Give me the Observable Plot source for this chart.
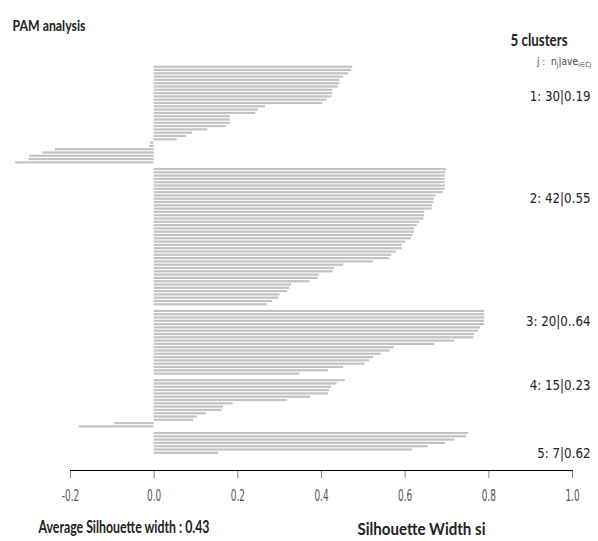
<!DOCTYPE html>
<html><head><meta charset="utf-8">
<script src="https://cdn.jsdelivr.net/npm/d3@7"></script>
<script src="https://cdn.jsdelivr.net/npm/@observablehq/plot@0.6"></script>
<style>body{margin:0;background:#fff}</style>
</head><body><div id="chart"></div>
<script>
// silhouette widths per cluster (sorted as in the reference)
const cluster1 = [0.475,0.472,0.465,0.453,0.444,0.444,0.440,0.427,0.427,0.425,0.414,0.403,0.266,0.249,0.243,0.182,0.182,0.182,0.173,0.128,0.092,0.077,0.055,-0.009,-0.011,-0.236,-0.266,-0.297,-0.299,-0.331];
const cluster2 = [0.699,0.697,0.696,0.696,0.696,0.696,0.695,0.691,0.674,0.670,0.668,0.665,0.665,0.647,0.646,0.645,0.635,0.629,0.623,0.622,0.619,0.615,0.601,0.593,0.593,0.579,0.568,0.563,0.524,0.453,0.431,0.428,0.395,0.392,0.372,0.328,0.324,0.319,0.301,0.298,0.283,0.270];
const cluster3 = [0.790,0.790,0.790,0.790,0.790,0.780,0.775,0.766,0.764,0.718,0.671,0.574,0.564,0.543,0.525,0.515,0.504,0.453,0.417,0.348];
const cluster4 = [0.457,0.437,0.424,0.419,0.417,0.374,0.319,0.189,0.166,0.162,0.126,0.103,0.094,-0.094,-0.179];
const cluster5 = [0.751,0.746,0.719,0.696,0.655,0.617,0.154];
const clusterIds = [1,2,3,4,5];
const clusterSizes = [30,42,20,15,7];
const clusterAverages = ["0.19","0.55","0..64","0.23","0.62"];
const xTicks = [-0.2,0.0,0.2,0.4,0.6,0.8,1.0];
const titleText = "PAM analysis";
const clustersText = "5 clusters";
const avgText = "Average Silhouette width : 0.43";
const xLabel = "Silhouette Width si";

// build rows: one slot per observation, one empty slot between clusters
const clusterValues = [cluster1, cluster2, cluster3, cluster4, cluster5];
const rows = [], groups = [];
let slot = 0;
clusterValues.forEach((vals, i) => {
  const start = slot;
  vals.forEach(v => rows.push({cluster: clusterIds[i], slot: slot++, s: v}));
  groups.push({id: clusterIds[i], start, n: clusterSizes[i], ave: clusterAverages[i]});
  slot++;
});
const lastSlot = slot - 2;
const labelShift = [9, 9, 3, 1.5, 6]; // label placement relative to cluster start (in slots)

const narrow = "'Liberation Sans Narrow', 'DejaVu Sans Condensed', sans-serif";
const humanist = "Lato, 'Open Sans', sans-serif";

const chart = Plot.plot({
  width: 598, height: 541,
  marginLeft: 70, marginRight: 26, marginTop: 60, marginBottom: 71,
  style: {fontFamily: humanist, background: "#fff", overflow: "visible"},
  x: {domain: [-0.2, 1.0], label: null, axis: null},
  y: {domain: [0, lastSlot], range: [66.7, 452.8], axis: null},
  marks: [
    Plot.rect(rows, {x1: 0, x2: "s", y1: d => d.slot - 0.33, y2: d => d.slot + 0.33, fill: "#c2c2c2"}),
    Plot.axisX({ticks: xTicks, tickFormat: d => d.toFixed(1), tickSize: 8, tickPadding: 12,
      fontSize: 15, fontFamily: narrow, stroke: "#888", fill: "#555", label: null}),
    Plot.frame({anchor: "bottom", stroke: "#000", strokeOpacity: 1}),
    Plot.text(groups, {x: 1.0, y: (d, i) => d.start + labelShift[i], text: d => `${d.id}: ${d.n}|${d.ave}`,
      textAnchor: "end", dx: 18, fontSize: 13.2, fontFamily: narrow, fill: "#222"}),
    Plot.text([titleText], {frameAnchor: "top-left", dx: -58, dy: -41, textAnchor: "start",
      fontSize: 15.5, fontWeight: "bold", fill: "#222"}),
    Plot.text([clustersText], {frameAnchor: "top-right", dx: -33.5, dy: -27, textAnchor: "middle",
      fontSize: 17, fontWeight: "bold", fill: "#222"}),
    Plot.text([avgText], {frameAnchor: "bottom-left", dx: -32, dy: 62, textAnchor: "start",
      fontSize: 16.5, fontWeight: "bold", fill: "#222"}),
    Plot.text([xLabel], {frameAnchor: "bottom", dx: 100, dy: 64, textAnchor: "middle",
      fontSize: 17.5, fontWeight: "bold", fill: "#222"})
  ]
});
document.getElementById("chart").appendChild(chart);

// condensed look of the original: squeeze glyphs horizontally to the reference widths
const targetWidths = {"PAM analysis": 73, "5 clusters": 57, "Average Silhouette width : 0.43": 171, "Silhouette Width si": 128};
d3.select(chart).selectAll("text").each(function() {
  const el = this;
  const w = el.getComputedTextLength();
  if (!w) return;
  const parent = el.parentNode;
  const isTick = parent && /tick/.test(parent.getAttribute("aria-label") || "");
  let target = null;
  if (targetWidths[el.textContent] != null) target = targetWidths[el.textContent];
  else if (isTick) target = w * 0.66;
  if (target == null) return;
  el.setAttribute("textLength", target);
  el.setAttribute("lengthAdjust", "spacingAndGlyphs");
});

// small legend "j : n_j | ave_{i∈Cj}" with subscripts
const t = d3.select(chart).append("text").attr("x", 537).attr("y", 65)
  .attr("text-anchor", "start")
  .attr("font-family", narrow).attr("font-size", 10).attr("fill", "#444");
t.append("tspan").text("j :  n");
t.append("tspan").attr("dy", 2).attr("font-size", 7).text("j");
t.append("tspan").attr("dy", -2).text("|ave");
t.append("tspan").attr("dy", 2).attr("font-size", 7).text("i∈Cj");
</script>
</body></html>
